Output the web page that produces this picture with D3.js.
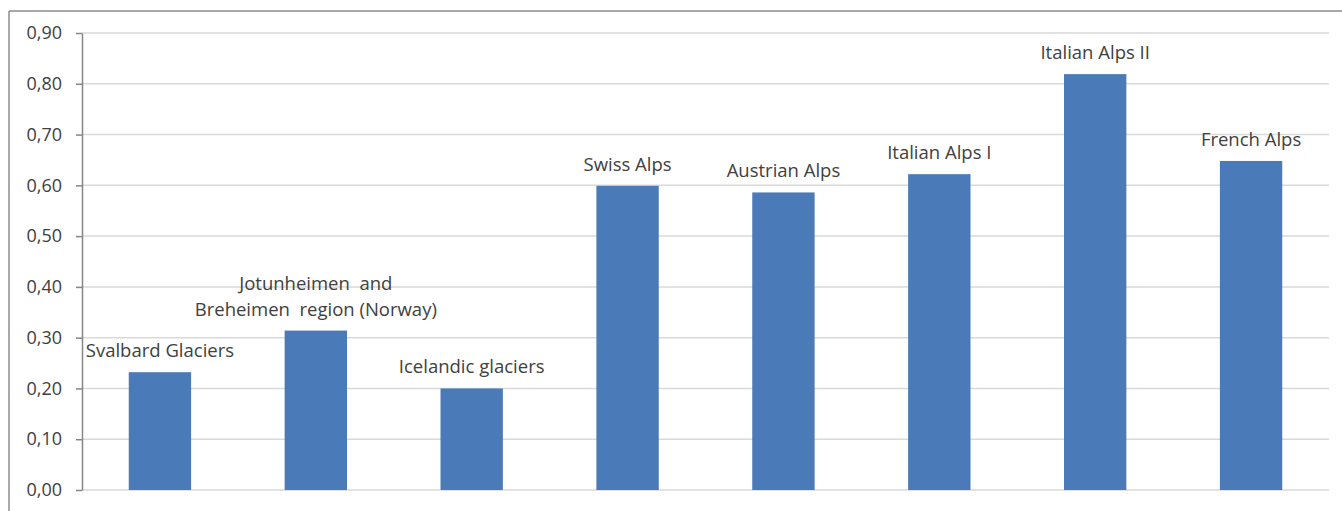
<!DOCTYPE html>
<html>
<head>
<meta charset="utf-8">
<script src="https://cdn.jsdelivr.net/npm/d3@7"></script>
<style>
  body { margin: 0; background: #fff; }
  svg text { font-family: "Open Sans", "Noto Sans", sans-serif; fill: #404040; }
</style>
</head>
<body>
<div id="chart"></div>
<script>
// category names (multi-line labels split with \n)
const regions = [
  "Svalbard Glaciers",
  "Jotunheimen  and\nBreheimen  region (Norway)",
  "Icelandic glaciers",
  "Swiss Alps",
  "Austrian Alps",
  "Italian Alps I",
  "Italian Alps II",
  "French Alps"
];
// values
const values = [0.232, 0.314, 0.200, 0.599, 0.586, 0.622, 0.819, 0.648];
const yTicks = [0, 0.1, 0.2, 0.3, 0.4, 0.5, 0.6, 0.7, 0.8, 0.9];

const W = 1342, H = 511;
const margin = { top: 33, right: 13, bottom: 21, left: 82 };
const width = W - margin.left - margin.right,
      height = H - margin.top - margin.bottom;

const root = d3.select("#chart").append("svg")
  .attr("width", W).attr("height", H);

// outer frame (top + left visible)
root.append("line").attr("x1", 9).attr("x2", W).attr("y1", 11).attr("y2", 11)
  .attr("stroke", "#8c8c8c").attr("stroke-width", 1.5);
root.append("line").attr("x1", 9).attr("x2", 9).attr("y1", 11).attr("y2", H)
  .attr("stroke", "#8c8c8c").attr("stroke-width", 1.5);

const svg = root.append("g").attr("transform", `translate(${margin.left},${margin.top})`);

const data = regions.map((r, i) => ({ region: r, value: values[i] }));

const xScale = d3.scaleBand()
  .domain(regions)
  .range([0, width])
  .paddingInner(0.6)
  .paddingOuter(0.3);

const yScale = d3.scaleLinear()
  .domain([0, 0.9])
  .range([height, 0]);

const fmt = d => d3.format(".2f")(d).replace(".", ",");

// gridlines
svg.append("g")
  .selectAll("line")
  .data(yTicks)
  .join("line")
  .attr("x1", 0).attr("x2", width)
  .attr("y1", d => yScale(d)).attr("y2", d => yScale(d))
  .attr("stroke", "#d9d9d9").attr("stroke-width", 1.5);

// y axis
const yAxis = svg.append("g")
  .call(d3.axisLeft(yScale).tickValues(yTicks).tickFormat(fmt).tickSize(6).tickSizeOuter(0));
yAxis.select(".domain").attr("stroke", "#868686").attr("stroke-width", 1.5);
yAxis.selectAll(".tick line").attr("stroke", "#868686").attr("stroke-width", 1.5);
yAxis.selectAll(".tick text")
  .attr("x", -20)
  .style("font-size", "18px")
  .style("font-family", "'Open Sans', sans-serif")
  .attr("fill", "#404040");

// bars
svg.selectAll("rect.bar")
  .data(data)
  .join("rect")
  .attr("class", "bar")
  .attr("x", d => xScale(d.region))
  .attr("y", d => yScale(d.value))
  .attr("width", xScale.bandwidth())
  .attr("height", d => height - yScale(d.value))
  .attr("fill", "#4a7ab7");

// labels above bars
const labels = svg.selectAll("text.lab")
  .data(data)
  .join("text")
  .attr("class", "lab")
  .attr("text-anchor", "middle")
  .style("font-size", "18.5px");

labels.each(function (d) {
  const lines = d.region.split("\n");
  const cx = xScale(d.region) + xScale.bandwidth() / 2;
  const base = yScale(d.value) - 15;
  d3.select(this).selectAll("tspan")
    .data(lines)
    .join("tspan")
    .attr("x", cx)
    .attr("y", (l, i) => base - (lines.length - 1 - i) * 26)
    .style("white-space", "pre")
    .text(l => l);
});
</script>
</body>
</html>
